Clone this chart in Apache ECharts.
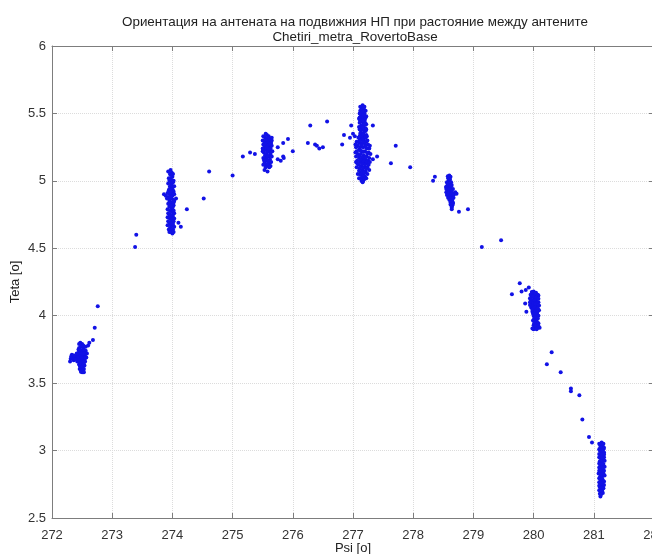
<!DOCTYPE html>
<html>
<head>
<meta charset="utf-8">
<script src="https://cdn.jsdelivr.net/npm/echarts@6/dist/echarts.min.js"></script>
<style>
  html, body { margin: 0; padding: 0; background: #fff; }
  #chart { width: 652px; height: 554px; }
</style>
</head>
<body>
<div id="chart"></div>
<script>
// точки по групи (Psi, Teta)
const cluster272 = [
  [272.47,3.80],[272.50,3.79],[272.48,3.77],[272.45,3.76],[272.52,3.76],[272.49,3.74],[272.46,3.73],[272.53,3.73],
  [272.50,3.72],[272.44,3.71],[272.48,3.70],[272.51,3.70],[272.55,3.71],[272.42,3.70],[272.38,3.70],[272.34,3.69],
  [272.31,3.68],[272.36,3.67],[272.40,3.68],[272.46,3.68],[272.50,3.67],[272.53,3.68],[272.57,3.69],[272.47,3.66],
  [272.52,3.65],[272.45,3.64],[272.49,3.63],[272.54,3.63],[272.47,3.62],[272.51,3.61],[272.48,3.60],[272.52,3.59],
  [272.50,3.58],[272.30,3.66],[272.33,3.71],[272.42,3.66],[272.55,3.66],[272.44,3.75],[272.56,3.74],[272.49,3.78],
  [272.45,3.79],[272.52,3.78],[272.47,3.745],[272.53,3.745],[272.44,3.725],[272.49,3.715],[272.54,3.72],[272.46,3.695],
  [272.52,3.69],[272.43,3.685],[272.49,3.685],[272.55,3.685],[272.45,3.67],[272.50,3.655],[272.47,3.645],[272.53,3.64],
  [272.46,3.63],[272.51,3.625],[272.49,3.615],[272.53,3.605],[272.46,3.605],[272.50,3.595],[272.48,3.585],[272.53,3.58],
  [272.34,3.685],[272.38,3.675],[272.32,3.70],[272.36,3.705],[272.41,3.72],
  [272.56,3.77],[272.60,3.78],[272.62,3.80],[272.68,3.82],[272.71,3.91],[272.76,4.07],[272.58,3.72]
];
const cluster274 = [
  [273.97,5.08],[273.99,5.06],[273.96,5.05],[274.00,5.03],[273.97,5.02],[273.95,5.00],[274.01,4.99],[273.98,4.98],
  [273.96,4.96],[274.00,4.95],[273.97,4.94],[273.94,4.93],[274.02,4.92],[273.98,4.91],[273.96,4.90],[274.00,4.89],
  [273.93,4.88],[273.89,4.89],[273.97,4.87],[274.01,4.86],[273.95,4.85],[273.99,4.84],[273.97,4.83],[274.02,4.82],
  [273.95,4.81],[273.98,4.80],[274.00,4.79],[273.96,4.78],[273.99,4.77],[274.03,4.76],[273.95,4.75],[273.98,4.74],
  [274.01,4.73],[273.96,4.72],[273.99,4.71],[274.02,4.70],[273.97,4.69],[273.95,4.68],[274.00,4.67],[273.98,4.66],
  [273.96,4.65],[274.01,4.64],[273.98,4.63],[273.97,4.62],[274.00,4.61],[273.99,4.97],[273.96,4.91],[274.02,4.84],
  [273.93,5.07],[274.01,5.05],[273.94,5.02],[274.02,5.00],[273.93,4.98],[274.03,4.96],[273.95,4.94],[274.01,4.93],
  [273.92,4.91],[274.03,4.90],[273.94,4.87],[274.03,4.85],[273.93,4.83],[274.01,4.81],[273.92,4.79],[274.02,4.78],
  [273.93,4.76],[274.01,4.75],[273.92,4.73],[274.03,4.72],[273.93,4.70],[274.01,4.68],[273.92,4.67],[274.03,4.66],
  [273.94,4.64],[274.02,4.62],[273.95,4.62],[273.98,4.685],[273.97,4.745],[273.98,4.815],[273.98,4.875],[273.97,4.935],
  [273.98,5.005],[273.97,5.045],[273.86,4.90],[273.91,4.87],
  [274.06,4.87],[274.24,4.79],[274.10,4.69],[274.14,4.66],[274.52,4.87],[274.61,5.07],[275.00,5.04],
  [273.40,4.60],[273.38,4.51]
];
const cluster2756 = [
  [275.57,5.34],[275.60,5.33],[275.54,5.32],[275.62,5.31],[275.57,5.30],[275.53,5.29],[275.60,5.29],[275.64,5.28],
  [275.56,5.27],[275.61,5.26],[275.53,5.25],[275.58,5.25],[275.63,5.24],[275.55,5.23],[275.60,5.22],[275.52,5.21],
  [275.57,5.20],[275.63,5.20],[275.54,5.19],[275.60,5.18],[275.56,5.17],[275.62,5.16],[275.58,5.15],[275.53,5.14],
  [275.61,5.13],[275.56,5.12],[275.59,5.11],[275.55,5.10],[275.58,5.28],[275.55,5.35],[275.62,5.22],
  [275.51,5.33],[275.65,5.32],[275.50,5.30],[275.65,5.30],[275.51,5.27],[275.65,5.26],[275.50,5.24],[275.66,5.22],
  [275.50,5.22],[275.65,5.18],[275.51,5.17],[275.64,5.14],[275.51,5.12],[275.63,5.11],[275.59,5.315],[275.555,5.305],
  [275.585,5.265],[275.565,5.245],[275.595,5.235],[275.575,5.215],[275.585,5.185],[275.565,5.155],[275.595,5.145],
  [275.575,5.125],[275.61,5.10],[275.52,5.155],[275.54,5.275],[275.62,5.275],
  [275.17,5.18],[275.29,5.21],[275.37,5.20],[275.75,5.25],[275.84,5.28],[275.92,5.31],[276.00,5.22],[275.75,5.16],
  [275.80,5.15],[275.84,5.18],[275.85,5.17],[275.53,5.08],[275.58,5.07]
];
const scatterMid = [
  [276.29,5.41],[276.57,5.44],[276.25,5.28],[276.37,5.27],[276.40,5.26],[276.44,5.24],[276.50,5.25],[276.82,5.27],
  [276.85,5.34],[276.97,5.41],[276.95,5.32],[277.00,5.35],[277.03,5.33],[277.33,5.41],[277.33,5.16],[277.40,5.18]
];
const cluster2772 = [
  [277.16,5.56],[277.19,5.55],[277.14,5.54],[277.18,5.53],[277.21,5.52],[277.15,5.51],[277.19,5.50],[277.13,5.49],
  [277.17,5.48],[277.21,5.47],[277.15,5.46],[277.19,5.45],[277.13,5.44],[277.17,5.43],[277.22,5.42],[277.14,5.41],
  [277.18,5.40],[277.21,5.39],[277.15,5.38],[277.19,5.37],[277.13,5.36],[277.17,5.35],[277.22,5.34],[277.15,5.33],
  [277.19,5.32],[277.14,5.31],[277.18,5.30],[277.22,5.29],[277.16,5.47],[277.20,5.43],[277.16,5.38],[277.20,5.33],
  [277.12,5.55],[277.18,5.545],[277.12,5.52],[277.16,5.515],[277.11,5.50],[277.17,5.49],[277.11,5.47],[277.20,5.46],
  [277.12,5.45],[277.16,5.445],[277.11,5.43],[277.19,5.42],[277.12,5.40],[277.16,5.395],[277.11,5.38],[277.21,5.37],
  [277.12,5.35],[277.16,5.345],[277.11,5.33],[277.21,5.32],[277.12,5.31],[277.16,5.305],
  [277.10,5.28],[277.14,5.28],[277.20,5.27],[277.25,5.27],[277.08,5.26],[277.12,5.25],[277.17,5.25],[277.23,5.24],
  [277.10,5.23],[277.15,5.22],[277.20,5.22],[277.26,5.21],[277.08,5.20],[277.13,5.20],[277.18,5.19],[277.23,5.18],
  [277.10,5.17],[277.15,5.16],[277.20,5.16],[277.25,5.15],[277.12,5.14],[277.17,5.13],[277.22,5.13],[277.09,5.12],
  [277.14,5.11],[277.19,5.10],[277.24,5.10],[277.11,5.09],[277.16,5.08],[277.21,5.07],[277.13,5.06],[277.18,5.05],
  [277.15,5.04],[277.20,5.03],[277.16,5.02],[277.18,5.01],[277.17,5.00],[277.16,4.99],[277.11,5.30],[277.24,5.30],
  [277.06,5.29],[277.17,5.285],[277.05,5.25],[277.14,5.265],[277.21,5.255],[277.27,5.24],[277.06,5.22],[277.12,5.225],
  [277.17,5.215],[277.24,5.205],[277.05,5.18],[277.11,5.185],[277.16,5.175],[277.21,5.175],[277.27,5.17],[277.07,5.15],
  [277.13,5.155],[277.18,5.145],[277.23,5.14],[277.07,5.13],[277.15,5.125],[277.20,5.12],[277.26,5.12],[277.12,5.10],
  [277.17,5.095],[277.22,5.09],[277.10,5.075],[277.15,5.065],[277.19,5.06],[277.12,5.045],[277.17,5.035],[277.14,5.02],
  [277.19,5.015],[277.14,5.00],
  [277.04,5.27],[277.28,5.26],[277.04,5.21],[277.29,5.20],[277.05,5.14],[277.28,5.14],[277.06,5.10],[277.27,5.08],
  [277.08,5.05],[277.24,5.05],[277.10,5.02],[277.22,5.02],[277.09,5.32],[277.23,5.33],[277.10,5.40],[277.22,5.38],
  [277.10,5.46],[277.22,5.48]
];
const cluster2786 = [
  [278.60,5.04],[278.62,5.03],[278.58,5.02],[278.61,5.01],[278.59,5.00],[278.63,4.99],[278.57,4.98],[278.60,4.97],
  [278.64,4.97],[278.56,4.96],[278.59,4.95],[278.62,4.94],[278.66,4.94],[278.57,4.93],[278.61,4.92],[278.65,4.91],
  [278.58,4.90],[278.62,4.90],[278.68,4.90],[278.60,4.89],[278.64,4.88],[278.61,4.87],[278.65,4.86],[278.62,4.85],
  [278.66,4.84],[278.63,4.83],[278.65,4.82],[278.64,4.81],[278.59,4.92],[278.63,4.96],
  [278.575,5.035],[278.605,5.015],[278.56,4.99],[278.585,4.975],[278.545,4.955],[278.62,4.965],[278.55,4.94],[278.60,4.935],
  [278.64,4.925],[278.55,4.915],[278.59,4.91],[278.63,4.905],[278.70,4.915],[278.72,4.905],[278.56,4.895],[278.60,4.88],
  [278.66,4.895],[278.58,4.875],[278.63,4.87],[278.67,4.875],[278.60,4.86],[278.64,4.855],[278.62,4.84],[278.66,4.83],
  [278.62,4.825],[278.64,4.80],
  [277.71,5.26],[277.63,5.13],[277.95,5.10],[278.36,5.03],[278.33,5.00],[278.64,4.79],[278.76,4.77],[278.91,4.79],
  [279.14,4.51],[279.46,4.56]
];
const cluster280 = [
  [280.00,4.18],[280.04,4.17],[279.98,4.16],[280.02,4.15],[280.06,4.14],[279.97,4.14],[280.01,4.13],[280.05,4.12],
  [279.95,4.12],[279.99,4.11],[280.03,4.10],[280.08,4.10],[279.97,4.09],[280.01,4.08],[280.05,4.07],[279.96,4.06],
  [280.00,4.05],[280.04,4.05],[280.09,4.04],[279.98,4.03],[280.02,4.02],[280.06,4.01],[280.00,4.00],[280.04,3.99],
  [280.01,3.98],[280.05,3.97],[280.02,3.96],[280.06,3.95],[280.03,3.94],[280.00,3.93],[280.05,3.92],[280.02,3.91],
  [280.07,3.91],[280.00,3.90],[280.10,3.91],[280.08,4.15],
  [279.97,4.175],[280.03,4.165],[279.95,4.155],[280.07,4.155],[279.99,4.145],[280.04,4.135],[279.94,4.13],[280.08,4.125],
  [279.97,4.115],[280.02,4.115],[280.06,4.095],[279.94,4.10],[279.99,4.095],[280.03,4.085],[280.09,4.075],[279.98,4.07],
  [279.94,4.08],[280.02,4.06],[280.07,4.055],[279.98,4.045],[280.03,4.035],[280.06,4.025],[279.99,4.015],[280.04,4.015],
  [280.08,4.00],[280.02,3.99],[280.07,3.98],[279.99,3.965],[280.04,3.955],[280.08,3.945],[280.01,3.945],[280.03,3.925],
  [280.08,3.925],[279.98,3.905],[280.05,3.90],
  [279.64,4.16],[279.77,4.24],[279.80,4.18],[279.87,4.19],[279.92,4.21],[279.86,4.09],[279.88,4.03],
  [280.30,3.73],[280.22,3.64],[280.45,3.58],[280.62,3.46],[280.62,3.44],[280.76,3.41],[280.81,3.23],
  [280.92,3.10],[280.97,3.06]
];
const cluster281 = [
  [281.13,3.06],[281.16,3.05],[281.11,3.04],[281.14,3.03],[281.12,3.02],[281.16,3.01],[281.10,3.00],[281.13,2.99],
  [281.15,2.98],[281.11,2.97],[281.14,2.96],[281.17,2.95],[281.12,2.94],[281.15,2.93],[281.10,2.92],[281.13,2.91],
  [281.16,2.90],[281.11,2.89],[281.14,2.88],[281.12,2.87],[281.15,2.86],[281.09,2.85],[281.13,2.84],[281.16,2.83],
  [281.11,2.82],[281.14,2.81],[281.10,2.80],[281.13,2.79],[281.15,2.78],[281.11,2.77],[281.14,2.76],[281.12,2.75],
  [281.15,2.74],[281.10,2.73],[281.13,2.72],[281.11,2.71],[281.14,2.70],[281.12,2.69],[281.10,2.68],[281.11,2.66],
  [281.09,3.05],[281.15,3.045],[281.11,3.025],[281.17,3.02],[281.09,3.01],[281.14,3.005],[281.17,2.985],[281.09,2.975],
  [281.13,2.965],[281.17,2.97],[281.09,2.95],[281.14,2.945],[281.18,2.925],[281.09,2.905],[281.14,2.90],[281.18,2.88],
  [281.09,2.875],[281.15,2.87],[281.11,2.855],[281.17,2.85],[281.08,2.83],[281.13,2.825],[281.18,2.815],[281.09,2.795],
  [281.14,2.79],[281.17,2.77],[281.09,2.765],[281.13,2.755],[281.17,2.745],[281.09,2.74],[281.12,2.725],[281.16,2.72],
  [281.09,2.705],[281.13,2.70],[281.15,2.685],[281.12,2.675]
];

const titleLines = ['Ориентация на антената на подвижния НП при растояние между антените', 'Chetiri_metra_RovertoBase'];
const xName = 'Psi [o]';
const yName = 'Teta [o]';

const allPoints = [].concat(cluster272, cluster274, cluster2756, scatterMid, cluster2772, cluster2786, cluster280, cluster281);

const font = 'Liberation Sans, Arial, sans-serif';
const axisGray = '#7d7d7d';
const gridStyle = { show: true, lineStyle: { color: '#dcdcdc', type: 'dotted', width: 1 } };

const chart = echarts.init(document.getElementById('chart'));
chart.setOption({
  animation: false,
  backgroundColor: '#fff',
  title: {
    text: titleLines.join('\n'),
    left: 350,
    textAlign: 'center',
    top: 10,
    textStyle: { fontFamily: font, fontSize: 13.4, fontWeight: 'normal', color: '#222', lineHeight: 15 }
  },
  grid: { left: 52, right: -2, top: 46, bottom: 36, outerBoundsMode: 'none' },
  xAxis: [
    {
      type: 'value', min: 272, max: 282, interval: 1, position: 'bottom',
      name: xName, nameLocation: 'middle', nameGap: 24, nameMoveOverlap: false,
      nameTextStyle: { fontFamily: font, fontSize: 13, color: '#222' },
      axisLine: { show: true, lineStyle: { color: axisGray } },
      axisTick: { show: true, inside: true, length: 5, lineStyle: { color: axisGray } },
      axisLabel: { fontFamily: font, fontSize: 13, color: '#333', margin: 11 },
      splitLine: gridStyle
    },
    {
      type: 'value', min: 272, max: 282, interval: 1, position: 'top',
      axisLine: { show: true, lineStyle: { color: axisGray } },
      axisTick: { show: true, inside: true, length: 5, lineStyle: { color: axisGray } },
      axisLabel: { show: false }, splitLine: { show: false }
    }
  ],
  yAxis: [
    {
      type: 'value', min: 2.5, max: 6, interval: 0.5, position: 'left',
      name: yName, nameLocation: 'middle', nameGap: 30, nameRotate: 90, nameMoveOverlap: false,
      nameTextStyle: { fontFamily: font, fontSize: 13, color: '#222' },
      axisLine: { show: true, lineStyle: { color: axisGray } },
      axisTick: { show: true, inside: true, length: 5, lineStyle: { color: axisGray } },
      axisLabel: { fontFamily: font, fontSize: 13, color: '#333', margin: 6 },
      splitLine: gridStyle
    },
    {
      type: 'value', min: 2.5, max: 6, interval: 0.5, position: 'right',
      axisLine: { show: true, lineStyle: { color: axisGray } },
      axisTick: { show: true, inside: true, length: 5, lineStyle: { color: axisGray } },
      axisLabel: { show: false }, splitLine: { show: false }
    }
  ],
  series: [{
    type: 'scatter',
    data: allPoints,
    symbol: 'circle',
    symbolSize: 4,
    itemStyle: { color: '#1212e6', opacity: 1 }
  }]
});
</script>
</body>
</html>
